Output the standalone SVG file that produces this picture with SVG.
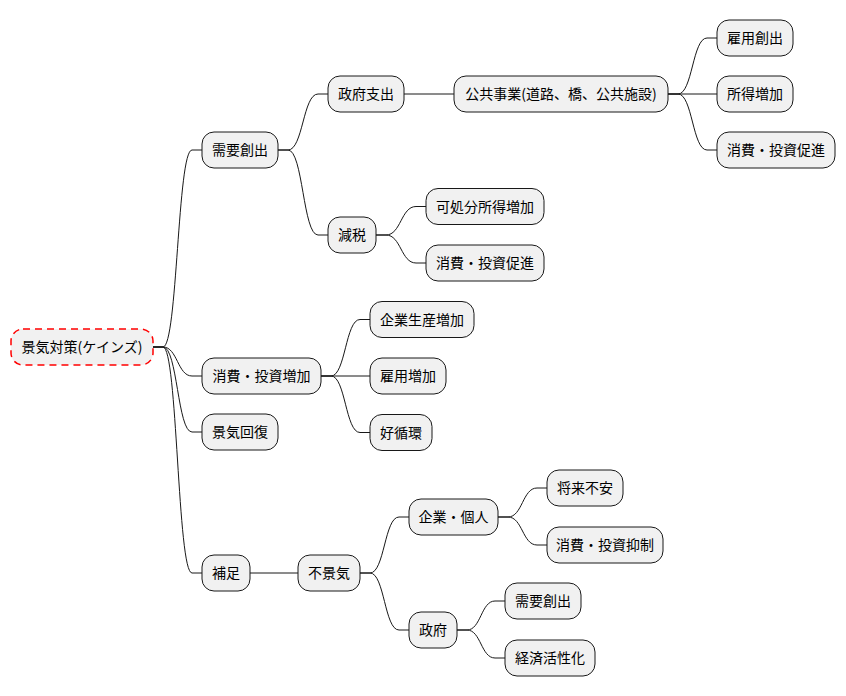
<svg xmlns="http://www.w3.org/2000/svg" width="846" height="696" viewBox="0 0 846 696">
<style>
.n rect{fill:#F1F1F1;stroke:#181818;stroke-width:1}
.n text{font-family:"Noto Sans CJK JP","Noto Sans",sans-serif;font-size:14px;fill:#000;text-anchor:middle}
#root rect{stroke:#FF0000;stroke-width:1.5;stroke-dasharray:7,5}
#edges path{fill:none;stroke:#181818;stroke-width:1}
</style>
<rect width="846" height="696" fill="#FFFFFF"/>
<g id="edges">
<path d="M153,347 L163,347 C177.5,347 177.5,150 192,150 L202,150"/>
<path d="M153,347 L163,347 C177.5,347 177.5,376 192,376 L202,376"/>
<path d="M153,347 L163,347 C177.5,347 177.5,432 192,432 L202,432"/>
<path d="M153,347 L163,347 C177.5,347 177.5,573 192,573 L202,573"/>
<path d="M278,150 L288,150 C303,150 303,94 318,94 L328,94"/>
<path d="M278,150 L288,150 C303,150 303,235 318,235 L328,235"/>
<path d="M404,94 L454,94"/>
<path d="M668,94 L678,94 C692.5,94 692.5,38 707,38 L717,38"/>
<path d="M668,94 L717,94"/>
<path d="M668,94 L678,94 C692.5,94 692.5,150 707,150 L717,150"/>
<path d="M376,235 L386,235 C401,235 401,206.5 416,206.5 L426,206.5"/>
<path d="M376,235 L386,235 C401,235 401,263 416,263 L426,263"/>
<path d="M321,376 L331,376 C345.5,376 345.5,319.5 360,319.5 L370,319.5"/>
<path d="M321,376 L370,376"/>
<path d="M321,376 L331,376 C345.5,376 345.5,432.5 360,432.5 L370,432.5"/>
<path d="M250,573 L298,573"/>
<path d="M360,573 L370,573 C384.5,573 384.5,517 399,517 L409,517"/>
<path d="M360,573 L370,573 C384.5,573 384.5,630 399,630 L409,630"/>
<path d="M498,517 L508,517 C522.5,517 522.5,488 537,488 L547,488"/>
<path d="M498,517 L508,517 C522.5,517 522.5,545 537,545 L547,545"/>
<path d="M457,630 L467,630 C481,630 481,601 495,601 L505,601"/>
<path d="M457,630 L467,630 C481,630 481,658 495,658 L505,658"/>
</g>
<g id="root" class="n"><rect x="11" y="329" width="142" height="36" rx="12" ry="12"/><text x="82" y="352">景気対策(ケインズ)</text></g>
<g id="n1" class="n"><rect x="202" y="132" width="76" height="36" rx="12" ry="12"/><text x="240" y="155">需要創出</text></g>
<g id="n11" class="n"><rect x="328" y="76" width="76" height="36" rx="12" ry="12"/><text x="366" y="99">政府支出</text></g>
<g id="n111" class="n"><rect x="454" y="76" width="214" height="36" rx="12" ry="12"/><text x="561" y="99">公共事業(道路、橋、公共施設)</text></g>
<g id="n1111" class="n"><rect x="717" y="20" width="76" height="36" rx="12" ry="12"/><text x="755" y="43">雇用創出</text></g>
<g id="n1112" class="n"><rect x="717" y="76" width="76" height="36" rx="12" ry="12"/><text x="755" y="99">所得増加</text></g>
<g id="n1113" class="n"><rect x="717" y="132" width="118" height="36" rx="12" ry="12"/><text x="776" y="155">消費・投資促進</text></g>
<g id="n12" class="n"><rect x="328" y="217" width="48" height="36" rx="12" ry="12"/><text x="352" y="240">減税</text></g>
<g id="n121" class="n"><rect x="426" y="188.5" width="118" height="36" rx="12" ry="12"/><text x="485" y="211.5">可処分所得増加</text></g>
<g id="n122" class="n"><rect x="426" y="245" width="118" height="36" rx="12" ry="12"/><text x="485" y="268">消費・投資促進</text></g>
<g id="n2" class="n"><rect x="202" y="358" width="119" height="36" rx="12" ry="12"/><text x="261.5" y="381">消費・投資増加</text></g>
<g id="n21" class="n"><rect x="370" y="301.5" width="104" height="36" rx="12" ry="12"/><text x="422" y="324.5">企業生産増加</text></g>
<g id="n22" class="n"><rect x="370" y="358" width="76" height="36" rx="12" ry="12"/><text x="408" y="381">雇用増加</text></g>
<g id="n23" class="n"><rect x="370" y="414.5" width="62" height="36" rx="12" ry="12"/><text x="401" y="437.5">好循環</text></g>
<g id="n3" class="n"><rect x="202" y="414" width="76" height="36" rx="12" ry="12"/><text x="240" y="437">景気回復</text></g>
<g id="n4" class="n"><rect x="202" y="555" width="48" height="36" rx="12" ry="12"/><text x="226" y="578">補足</text></g>
<g id="n41" class="n"><rect x="298" y="555" width="62" height="36" rx="12" ry="12"/><text x="329" y="578">不景気</text></g>
<g id="n411" class="n"><rect x="409" y="499" width="89" height="36" rx="12" ry="12"/><text x="453.5" y="522">企業・個人</text></g>
<g id="n4111" class="n"><rect x="547" y="470" width="76" height="36" rx="12" ry="12"/><text x="585" y="493">将来不安</text></g>
<g id="n4112" class="n"><rect x="547" y="527" width="116" height="36" rx="12" ry="12"/><text x="605" y="550">消費・投資抑制</text></g>
<g id="n412" class="n"><rect x="409" y="612" width="48" height="36" rx="12" ry="12"/><text x="433" y="635">政府</text></g>
<g id="n4121" class="n"><rect x="505" y="583" width="76" height="36" rx="12" ry="12"/><text x="543" y="606">需要創出</text></g>
<g id="n4122" class="n"><rect x="505" y="640" width="90" height="36" rx="12" ry="12"/><text x="550" y="663">経済活性化</text></g>
</svg>
